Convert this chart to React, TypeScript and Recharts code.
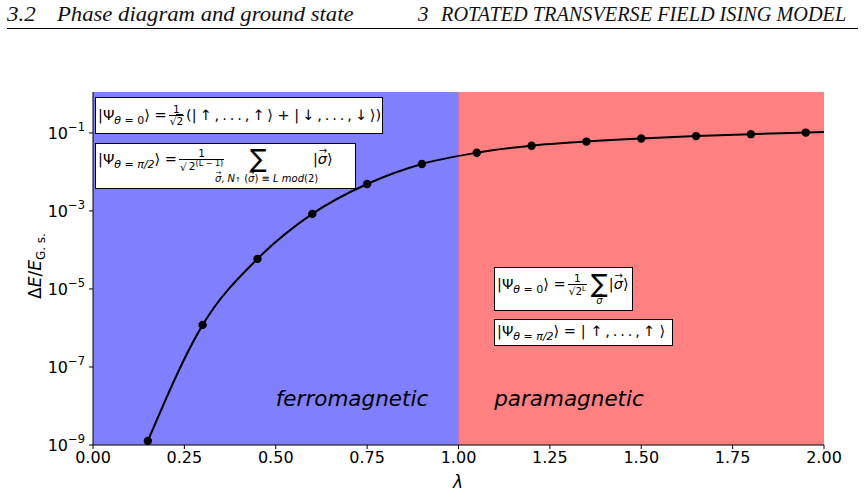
import React from "react";
import { ComposedChart, Line, XAxis, YAxis, ReferenceArea, ReferenceLine } from "recharts";

// transverse field strength at each simulated point
const LAMBDA = [0.15, 0.3, 0.45, 0.6, 0.75, 0.9, 1.05, 1.2, 1.35, 1.5, 1.65, 1.8, 1.95];
// relative gap to the ground state energy
const GAP = [1.27e-9, 1.2e-6, 5.9e-5, 8.4e-4, 4.9e-3, 0.016, 0.031, 0.047, 0.06, 0.072, 0.083, 0.093, 0.102];
// the fitted curve runs on to the right edge of the axes
const CURVE_END_LAMBDA = 2.0;
const CURVE_END_GAP = 0.105;

const X_TICKS = [0, 0.25, 0.5, 0.75, 1, 1.25, 1.5, 1.75, 2];
const Y_TICKS = [1e-9, 1e-7, 1e-5, 1e-3, 1e-1];

const PHASE_BOUNDS = [0, 1, 2];
const PHASE_COLORS = ["#8080ff", "#ff8080"];
const PHASE_NAMES = ["ferromagnetic", "paramagnetic"];

const FONT = "'DejaVu Sans', sans-serif";
const SERIF = "'Liberation Serif', serif";
const T = "\u2009";

const data = LAMBDA.map((x, i) => ({ x, gap: GAP[i], marker: true })).concat({
  x: CURVE_END_LAMBDA,
  gap: CURVE_END_GAP,
  marker: false,
});

const Dot = (props: any) => {
  const { cx, cy, payload, index } = props;
  if (!payload.marker) return <circle key={`d-${index}`} cx={cx} cy={cy} r={0} />;
  return <circle key={`d-${index}`} cx={cx} cy={cy} r={4.2} fill="#000" stroke="none" />;
};

const YTick = ({ x, y, payload }: any) => {
  const exp = Math.round(Math.log10(payload.value));
  return (
    <text x={x} y={y + 6} textAnchor="end" fontSize={16} fontFamily={FONT} fill="#000">
      <tspan>10</tspan>
      <tspan dy={-8} fontSize={11.5}>{`−${-exp}`}</tspan>
    </text>
  );
};

// small math helpers for the state formulas
const Frac = ({ num, den }: any) => (
  <span
    style={{
      display: "inline-flex",
      flexDirection: "column",
      alignItems: "center",
      verticalAlign: "middle",
      fontSize: 10.5,
      lineHeight: 1.05,
      margin: "0 2px",
    }}
  >
    <span>{num}</span>
    <span style={{ borderTop: "1px solid #000", padding: "0 1px" }}>{den}</span>
  </span>
);

const Root = ({ children }: any) => (
  <span>
    √<span style={{ borderTop: "1px solid #000" }}>{children}</span>
  </span>
);

const Vec = ({ children }: any) => (
  <span style={{ position: "relative", display: "inline-block", fontStyle: "italic" }}>
    {children}
    <span
      style={{
        position: "absolute",
        left: "50%",
        top: "-0.55em",
        transform: "translateX(-45%)",
        fontSize: "0.7em",
        fontStyle: "normal",
      }}
    >
      →
    </span>
  </span>
);

const Sub = ({ children }: any) => (
  <span style={{ fontSize: 11, verticalAlign: -4 }}>{children}</span>
);

const Psi = ({ angle }: any) => (
  <span>
    |Ψ
    <Sub>
      <i>θ</i> = {angle}
    </Sub>
    ⟩
  </span>
);

const Ket = () => (
  <span>
    |<Vec>σ</Vec>⟩
  </span>
);

// big sum sign with its limits hung underneath
const Sum = ({ under, shift = 0, left = 1, right = 1, drop = 0 }: any) => (
  <span
    style={{
      position: "relative",
      display: "inline-block",
      verticalAlign: "middle",
      fontSize: 25,
      lineHeight: 1,
      marginLeft: left,
      marginRight: right,
      top: -2,
    }}
  >
    ∑
    <span
      style={{
        position: "absolute",
        left: "50%",
        top: "100%",
        transform: `translateX(calc(-50% + ${shift}px))`,
        fontSize: 10,
        lineHeight: 1,
        whiteSpace: "nowrap",
        marginTop: drop,
      }}
    >
      {under}
    </span>
  </span>
);

const Box = ({ left, top, width, height, children }: any) => (
  <div
    style={{
      position: "absolute",
      left,
      top,
      width,
      height,
      boxSizing: "border-box",
      background: "#fff",
      border: "1px solid #000",
      display: "flex",
      alignItems: "center",
      paddingLeft: 2,
      fontFamily: FONT,
      fontSize: 14.5,
      whiteSpace: "nowrap",
      color: "#000",
    }}
  >
    <span>{children}</span>
  </div>
);

const Header = ({ left, top, scale, children }: any) => (
  <div
    style={{
      position: "absolute",
      left,
      top,
      fontFamily: SERIF,
      fontStyle: "italic",
      fontSize: 21,
      whiteSpace: "nowrap",
      transform: `scaleX(${scale})`,
      transformOrigin: "left top",
      color: "#111",
    }}
  >
    {children}
  </div>
);

export default function App() {
  return (
    <div style={{ position: "absolute", left: 0, top: 0, width: 864, height: 495, background: "#fff" }}>
      {/* running page header */}
      <Header left={7} top={2} scale={1.1}>3.2</Header>
      <Header left={57} top={2} scale={1.08}>Phase diagram and ground state</Header>
      <Header left={418} top={2} scale={1}>3</Header>
      <Header left={441} top={2} scale={0.965}>ROTATED TRANSVERSE FIELD ISING MODEL</Header>
      <div style={{ position: "absolute", left: 7, top: 28, width: 851, height: 1.4, background: "#000" }} />

      <div style={{ position: "absolute", left: 0, top: 0 }}>
        <ComposedChart width={864} height={495} data={data} margin={{ top: 92, right: 40, bottom: 0, left: 33 }}>
          {PHASE_COLORS.map((c, i) => (
            <ReferenceArea
              key={PHASE_NAMES[i]}
              x1={PHASE_BOUNDS[i]}
              x2={PHASE_BOUNDS[i + 1]}
              y1={1e-9}
              y2={1.12}
              fill={c}
              fillOpacity={1}
              stroke="none"
              ifOverflow="hidden"
            />
          ))}
          <ReferenceLine x={PHASE_BOUNDS[1]} stroke="#b878c0" strokeWidth={1.2} />
          <XAxis
            dataKey="x"
            type="number"
            domain={[0, 2]}
            ticks={X_TICKS}
            tickFormatter={(v: number) => v.toFixed(2)}
            height={50}
            stroke="#000"
            tickSize={4}
            tickMargin={3}
            tick={{ fill: "#000", fontSize: 16, fontFamily: FONT }}
            allowDataOverflow
          />
          <XAxis xAxisId="top" orientation="top" type="number" domain={[0, 2]} height={0} tick={false} tickLine={false} stroke="#000" />
          <YAxis
            dataKey="gap"
            scale="log"
            type="number"
            domain={[1e-9, 1.12]}
            ticks={Y_TICKS}
            width={60}
            stroke="#000"
            tickSize={4}
            tickMargin={4}
            tick={<YTick />}
            allowDataOverflow
          />
          <YAxis yAxisId="right" orientation="right" width={0} tick={false} tickLine={false} stroke="#000" />
          <Line
            type="monotone"
            dataKey="gap"
            stroke="#000"
            strokeWidth={2}
            dot={<Dot />}
            activeDot={false}
            isAnimationActive={false}
          />
        </ComposedChart>
      </div>

      {/* axis labels */}
      <div
        style={{
          position: "absolute",
          left: 458,
          top: 482,
          transform: "translate(-50%, -50%)",
          fontFamily: FONT,
          fontStyle: "italic",
          fontSize: 17,
        }}
      >
        λ
      </div>
      <div
        style={{
          position: "absolute",
          left: 36,
          top: 266,
          transform: "translate(-50%, -50%) rotate(-90deg)",
          fontFamily: FONT,
          fontSize: 17,
          whiteSpace: "nowrap",
        }}
      >
        Δ<i>E</i>/<i>E</i>
        <span style={{ fontSize: 12, verticalAlign: -4 }}>G. s.</span>
      </div>

      {/* phase names */}
      <div style={{ position: "absolute", left: 352, top: 398, transform: "translate(-50%, -50%)", fontFamily: FONT, fontStyle: "italic", fontSize: 21.5 }}>
        {PHASE_NAMES[0]}
      </div>
      <div style={{ position: "absolute", left: 569, top: 398, transform: "translate(-50%, -50%)", fontFamily: FONT, fontStyle: "italic", fontSize: 21.5 }}>
        {PHASE_NAMES[1]}
      </div>

      {/* ground states in each phase */}
      <Box left={95} top={97} width={288} height={37}>
        <Psi angle="0" /> =
        <Frac num="1" den={<Root>2</Root>} />
        (|{T}↑{T},{T}.{T}.{T}.{T},{T}↑{T}⟩ + |{T}↓{T},{T}.{T}.{T}.{T},{T}↓{T}⟩)
      </Box>
      <Box left={95} top={143} width={261} height={46}>
        <span style={{ position: "relative", top: -6 }}>
          <Psi angle={<i>π/2</i>} /> =
          <Frac
            num="1"
            den={
              <Root>
                {T}2<sup style={{ fontSize: 8 }}>(L − 1)</sup>
              </Root>
            }
          />
          <Sum
            left={24}
            right={46}
            shift={8}
            drop={3}
            under={
              <span>
                <Vec>σ</Vec>, <i>N</i>
                <span style={{ fontSize: 7 }}>↑</span> (<Vec>σ</Vec>) ≡ <i>L mod</i>(2)
              </span>
            }
          />
          <Ket />
        </span>
      </Box>
      <Box left={494} top={267} width={139} height={44}>
        <span style={{ position: "relative", top: -4 }}>
          <Psi angle="0" /> =
          <Frac
            num="1"
            den={
              <Root>
                2<sup style={{ fontSize: 7 }}>L</sup>
              </Root>
            }
          />
          <Sum left={2} under={<Vec>σ</Vec>} />
          <Ket />
        </span>
      </Box>
      <Box left={494} top={319} width={179} height={27}>
        <Psi angle={<i>π/2</i>} /> = | ↑{T},{T}.{T}.{T}.{T},{T}↑ ⟩
      </Box>
    </div>
  );
}
